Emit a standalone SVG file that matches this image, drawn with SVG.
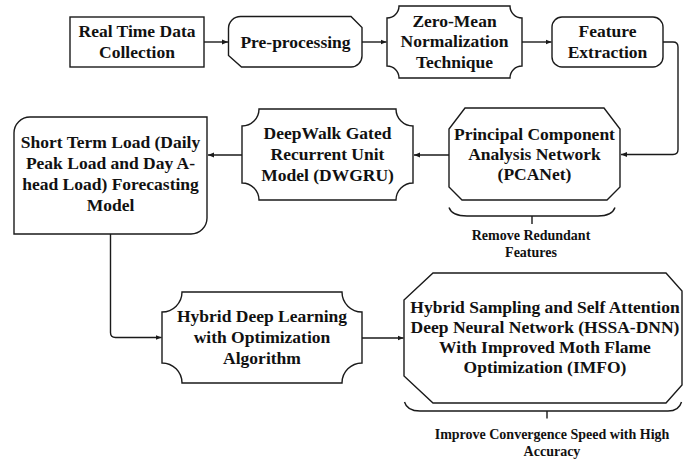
<svg xmlns="http://www.w3.org/2000/svg" width="683" height="459" viewBox="0 0 683 459">
<defs>
<marker id="arr" markerWidth="7" markerHeight="6" refX="6" refY="3" orient="auto" markerUnits="userSpaceOnUse">
<path d="M0,0.5 L6,3 L0,5.5 Z" fill="#1a1a1a"/>
</marker>
</defs>
<style>
.box{fill:#fff;stroke:#1a1a1a;stroke-width:1.4}
.t{font-family:"Liberation Serif","Times New Roman",serif;font-weight:bold;font-size:17.5px;fill:#111;text-anchor:middle}
.s{font-family:"Liberation Serif","Times New Roman",serif;font-weight:bold;font-size:14px;fill:#111;text-anchor:middle}
.c{fill:none;stroke:#1a1a1a;stroke-width:1.4}
</style>
<rect width="683" height="459" fill="#fff"/>
<g id="connectors">
<path class="c" d="M204,42 H228" marker-end="url(#arr)"/>
<path class="c" d="M362,42 H386.5" marker-end="url(#arr)"/>
<path class="c" d="M522,42 H551.5" marker-end="url(#arr)"/>
<path class="c" d="M663,42 H673 Q678,42 678,47 V149.5 Q678,154.5 673,154.5 H621" marker-end="url(#arr)"/>
<path class="c" d="M449,155 H414" marker-end="url(#arr)"/>
<path class="c" d="M242,155 H208" marker-end="url(#arr)"/>
<path class="c" d="M110.5,234 V332.5 Q110.5,337.5 115.5,337.5 H161.5" marker-end="url(#arr)"/>
<path class="c" d="M362,338 H403.5" marker-end="url(#arr)"/>
</g>
<g id="n1">
<rect class="box" x="70" y="17" width="134" height="50"/>
<text class="t" x="137" y="36.5">Real Time Data</text>
<text class="t" x="137" y="57.5">Collection</text>
</g>
<g id="n2">
<path class="box" d="M240.5,16.5 H351 L362,27.5 V56 A11 11 0 0 1 351,67 H241.5 L228.5,55.5 V28.5 A12 12 0 0 1 240.5,16.5 Z"/>
<text class="t" x="295.5" y="47.5">Pre-processing</text>
</g>
<g id="n3">
<path class="box" d="M399,6 H510 A12 12 0 0 0 522,18 V66 A12 12 0 0 0 510,78 H399 A12 12 0 0 0 387,66 V18 A12 12 0 0 0 399,6 Z"/>
<text class="t" x="454.5" y="26.5">Zero-Mean</text>
<text class="t" x="454.5" y="47">Normalization</text>
<text class="t" x="454.5" y="67.5">Technique</text>
</g>
<g id="n4">
<rect class="box" x="552" y="17" width="111" height="50" rx="10"/>
<text class="t" x="607.5" y="37">Feature</text>
<text class="t" x="607.5" y="57.5">Extraction</text>
</g>
<g id="n5">
<path class="box" d="M465,108 H604 L620,129 V187 L607,200 H462 L449,187 V129 Z"/>
<text class="t" x="534.5" y="139.5">Principal Component</text>
<text class="t" x="534.5" y="159.5">Analysis Network</text>
<text class="t" x="534.5" y="179.5">(PCANet)</text>
<path class="c" d="M449,207.5 Q452,216 467,216 H598 Q612,216 615,207.5 M532,216 V224"/>
<text class="s" x="531" y="240">Remove Redundant</text>
<text class="s" x="531" y="257">Features</text>
</g>
<g id="n6">
<path class="box" d="M259,109 H396 A17 17 0 0 0 413,126 V183 A17 17 0 0 0 396,200 H259 A17 17 0 0 0 242,183 V126 A17 17 0 0 0 259,109 Z"/>
<text class="t" x="327.5" y="139">DeepWalk Gated</text>
<text class="t" x="327.5" y="160">Recurrent Unit</text>
<text class="t" x="327.5" y="180.5">Model (DWGRU)</text>
</g>
<g id="n7">
<path class="box" d="M30,117 H207 V218 A16 16 0 0 1 191,234 H14 V133 A16 16 0 0 1 30,117 Z"/>
<text class="t" x="110.5" y="148.3">Short Term Load (Daily</text>
<text class="t" x="110.5" y="169.2">Peak Load and Day A-</text>
<text class="t" x="110.5" y="190">head Load) Forecasting</text>
<text class="t" x="110.5" y="210.8">Model</text>
</g>
<g id="n8">
<path class="box" d="M182,292 H342 A20 20 0 0 0 362,312 V363 A20 20 0 0 0 342,383 H182 A20 20 0 0 0 162,363 V312 A20 20 0 0 0 182,292 Z"/>
<text class="t" x="262" y="321.7">Hybrid Deep Learning</text>
<text class="t" x="262" y="342.7">with Optimization</text>
<text class="t" x="262" y="363.7">Algorithm</text>
</g>
<g id="n9">
<path class="box" d="M433,273 H666 L682,291 V385 L666,403 H433 L404,376 V300 Z"/>
<text class="t" x="545" y="313.3">Hybrid Sampling and Self Attention</text>
<text class="t" x="545" y="333.3">Deep Neural Network (HSSA-DNN)</text>
<text class="t" x="545" y="353.3">With Improved Moth Flame</text>
<text class="t" x="545" y="373">Optimization (IMFO)</text>
<path class="c" d="M404.5,402 Q407,411 420,411 H668 Q679,411 681.5,402 M547,411 V418.5"/>
<text class="s" x="552" y="439">Improve Convergence Speed with High</text>
<text class="s" x="552" y="456">Accuracy</text>
</g>
</svg>
